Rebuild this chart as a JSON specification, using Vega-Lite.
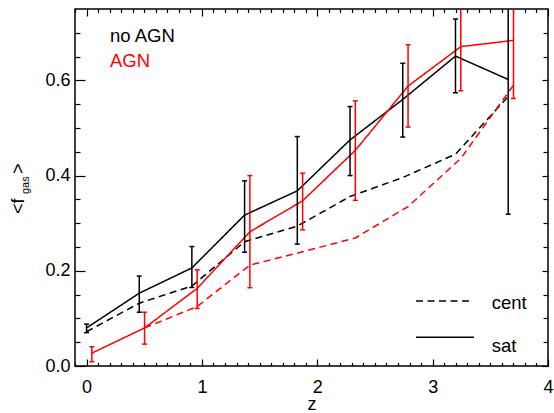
{
  "$schema": "https://vega.github.io/schema/vega-lite/v6.json",
  "width": 473,
  "height": 357,
  "autosize": {"type": "none"},
  "padding": {"left": 75, "top": 9, "right": 6, "bottom": 47},
  "background": "white",
  "config": {
    "view": {"stroke": "black", "strokeWidth": 1.5},
    "font": "Liberation Sans",
    "axis": {"domain": false, "grid": false, "tickColor": "black", "tickWidth": 1.2, "labelColor": "black", "labelFont": "Liberation Sans", "labelFontSize": 18, "titleFont": "Liberation Sans", "titleColor": "black", "titleFontWeight": "normal", "titleFontSize": 18, "labelFlush": false, "labelOverlap": false}
  },
  "datasets": {
    "lines": [
      {"series": "no AGN", "type": "sat", "z": 0.0, "f": 0.080},
      {"series": "no AGN", "type": "sat", "z": 0.457, "f": 0.153},
      {"series": "no AGN", "type": "sat", "z": 0.913, "f": 0.206},
      {"series": "no AGN", "type": "sat", "z": 1.37, "f": 0.317},
      {"series": "no AGN", "type": "sat", "z": 1.827, "f": 0.368},
      {"series": "no AGN", "type": "sat", "z": 2.284, "f": 0.475},
      {"series": "no AGN", "type": "sat", "z": 2.741, "f": 0.560},
      {"series": "no AGN", "type": "sat", "z": 3.198, "f": 0.651},
      {"series": "no AGN", "type": "sat", "z": 3.655, "f": 0.602},
      {"series": "no AGN", "type": "cent", "z": 0.0, "f": 0.072},
      {"series": "no AGN", "type": "cent", "z": 0.457, "f": 0.132},
      {"series": "no AGN", "type": "cent", "z": 0.913, "f": 0.168},
      {"series": "no AGN", "type": "cent", "z": 1.37, "f": 0.261},
      {"series": "no AGN", "type": "cent", "z": 1.827, "f": 0.294},
      {"series": "no AGN", "type": "cent", "z": 2.284, "f": 0.356},
      {"series": "no AGN", "type": "cent", "z": 2.741, "f": 0.396},
      {"series": "no AGN", "type": "cent", "z": 3.198, "f": 0.445},
      {"series": "no AGN", "type": "cent", "z": 3.655, "f": 0.566},
      {"series": "AGN", "type": "sat", "z": 0.046, "f": 0.027},
      {"series": "AGN", "type": "sat", "z": 0.503, "f": 0.080},
      {"series": "AGN", "type": "sat", "z": 0.959, "f": 0.163},
      {"series": "AGN", "type": "sat", "z": 1.416, "f": 0.282},
      {"series": "AGN", "type": "sat", "z": 1.873, "f": 0.347},
      {"series": "AGN", "type": "sat", "z": 2.33, "f": 0.453},
      {"series": "AGN", "type": "sat", "z": 2.787, "f": 0.588},
      {"series": "AGN", "type": "sat", "z": 3.244, "f": 0.671},
      {"series": "AGN", "type": "sat", "z": 3.701, "f": 0.684},
      {"series": "AGN", "type": "cent", "z": 0.503, "f": 0.080},
      {"series": "AGN", "type": "cent", "z": 0.959, "f": 0.125},
      {"series": "AGN", "type": "cent", "z": 1.416, "f": 0.212},
      {"series": "AGN", "type": "cent", "z": 1.873, "f": 0.240},
      {"series": "AGN", "type": "cent", "z": 2.33, "f": 0.269},
      {"series": "AGN", "type": "cent", "z": 2.787, "f": 0.335},
      {"series": "AGN", "type": "cent", "z": 3.244, "f": 0.436},
      {"series": "AGN", "type": "cent", "z": 3.701, "f": 0.590}
    ],
    "errors": [
      {"series": "no AGN", "z": 0.0, "lo": 0.070, "hi": 0.088},
      {"series": "no AGN", "z": 0.457, "lo": 0.113, "hi": 0.189},
      {"series": "no AGN", "z": 0.913, "lo": 0.165, "hi": 0.251},
      {"series": "no AGN", "z": 1.37, "lo": 0.239, "hi": 0.389},
      {"series": "no AGN", "z": 1.827, "lo": 0.256, "hi": 0.482},
      {"series": "no AGN", "z": 2.284, "lo": 0.400, "hi": 0.545},
      {"series": "no AGN", "z": 2.741, "lo": 0.481, "hi": 0.636},
      {"series": "no AGN", "z": 3.198, "lo": 0.574, "hi": 0.729},
      {"series": "no AGN", "z": 3.655, "lo": 0.319, "hi": 0.885},
      {"series": "AGN", "z": 0.046, "lo": 0.009, "hi": 0.0405},
      {"series": "AGN", "z": 0.503, "lo": 0.046, "hi": 0.113},
      {"series": "AGN", "z": 0.959, "lo": 0.121, "hi": 0.202},
      {"series": "AGN", "z": 1.416, "lo": 0.1645, "hi": 0.400},
      {"series": "AGN", "z": 1.873, "lo": 0.286, "hi": 0.405},
      {"series": "AGN", "z": 2.33, "lo": 0.348, "hi": 0.557},
      {"series": "AGN", "z": 2.787, "lo": 0.502, "hi": 0.675},
      {"series": "AGN", "z": 3.244, "lo": 0.578, "hi": 0.765},
      {"series": "AGN", "z": 3.701, "lo": 0.562, "hi": 0.806}
    ],
    "legendLines": [
      {"type": "cent", "x1": 2.856, "x2": 3.341, "y": 0.1366},
      {"type": "sat", "x1": 2.856, "x2": 3.358, "y": 0.0603}
    ],
    "legendText": [
      {"text": "no AGN", "series": "no AGN", "x": 0.2034, "y": 0.680},
      {"text": "AGN", "series": "AGN", "x": 0.2034, "y": 0.6275},
      {"text": "cent", "series": "no AGN", "x": 3.512, "y": 0.1191},
      {"text": "sat", "series": "no AGN", "x": 3.512, "y": 0.030}
    ]
  },
  "resolve": {"axis": {"x": "independent", "y": "independent"}},
  "layer": [
    {
      "data": {"name": "lines"},
      "mark": {"type": "line", "strokeWidth": 1.5, "clip": true},
      "encoding": {
        "x": {"field": "z", "type": "quantitative", "scale": {"domain": [-0.1, 4], "nice": false, "zero": false},
              "axis": {"orient": "bottom", "values": [0, 1, 2, 3, 4], "format": "d", "tickSize": -7, "labelPadding": 19.5, "title": "z", "titlePadding": -1.5}},
        "y": {"field": "f", "type": "quantitative", "scale": {"domain": [0, 0.75], "nice": false, "zero": false},
              "axis": {"orient": "left", "values": [0, 0.2, 0.4, 0.6], "format": ".1f", "tickSize": -10, "labelPadding": 15, "title": null}},
        "color": {"field": "series", "type": "nominal", "scale": {"domain": ["no AGN", "AGN"], "range": ["black", "#ff0000"]}, "legend": null},
        "strokeDash": {"field": "type", "type": "nominal", "scale": {"domain": ["cent", "sat"], "range": [[7, 4.5], [1, 0]]}, "legend": null},
        "detail": {"field": "type"}
      }
    },
    {
      "data": {"name": "errors"},
      "mark": {"type": "rule", "strokeWidth": 1.5, "clip": true},
      "encoding": {
        "x": {"field": "z", "type": "quantitative", "scale": {"domain": [-0.1, 4], "nice": false, "zero": false},
              "axis": {"orient": "bottom", "values": [-0.1, 0.1, 0.2, 0.3, 0.4, 0.5, 0.6, 0.7, 0.8, 0.9, 1.1, 1.2, 1.3, 1.4, 1.5, 1.6, 1.7, 1.8, 1.9, 2.1, 2.2, 2.3, 2.4, 2.5, 2.6, 2.7, 2.8, 2.9, 3.1, 3.2, 3.3, 3.4, 3.5, 3.6, 3.7, 3.8, 3.9], "tickSize": -3.5, "labels": false, "title": null}},
        "y": {"field": "lo", "type": "quantitative", "scale": {"domain": [0, 0.75], "nice": false, "zero": false},
              "axis": {"orient": "left", "values": [0.05, 0.1, 0.15, 0.25, 0.3, 0.35, 0.45, 0.5, 0.55, 0.65, 0.7], "tickSize": -5, "labels": false, "title": null}},
        "y2": {"field": "hi"},
        "color": {"field": "series", "type": "nominal", "legend": null}
      }
    },
    {
      "data": {"name": "errors"},
      "mark": {"type": "tick", "orient": "horizontal", "size": 5, "thickness": 1.5, "clip": true, "opacity": 1},
      "encoding": {
        "x": {"field": "z", "type": "quantitative", "scale": {"domain": [-0.1, 4], "nice": false, "zero": false},
              "axis": {"orient": "top", "values": [0, 1, 2, 3, 4], "tickSize": -7, "labels": false, "title": null}},
        "y": {"field": "lo", "type": "quantitative", "scale": {"domain": [0, 0.75], "nice": false, "zero": false},
              "axis": {"orient": "right", "values": [0, 0.2, 0.4, 0.6], "tickSize": -6, "labels": false, "title": null}},
        "color": {"field": "series", "type": "nominal", "legend": null}
      }
    },
    {
      "data": {"name": "errors"},
      "mark": {"type": "tick", "orient": "horizontal", "size": 5, "thickness": 1.5, "clip": true, "opacity": 1},
      "encoding": {
        "x": {"field": "z", "type": "quantitative", "scale": {"domain": [-0.1, 4], "nice": false, "zero": false},
              "axis": {"orient": "top", "values": [-0.1, 0.1, 0.2, 0.3, 0.4, 0.5, 0.6, 0.7, 0.8, 0.9, 1.1, 1.2, 1.3, 1.4, 1.5, 1.6, 1.7, 1.8, 1.9, 2.1, 2.2, 2.3, 2.4, 2.5, 2.6, 2.7, 2.8, 2.9, 3.1, 3.2, 3.3, 3.4, 3.5, 3.6, 3.7, 3.8, 3.9], "tickSize": -3.5, "labels": false, "title": null}},
        "y": {"field": "hi", "type": "quantitative", "scale": {"domain": [0, 0.75], "nice": false, "zero": false},
              "axis": {"orient": "right", "values": [0.05, 0.1, 0.15, 0.25, 0.3, 0.35, 0.45, 0.5, 0.55, 0.65, 0.7], "tickSize": -5, "labels": false, "title": null}},
        "color": {"field": "series", "type": "nominal", "legend": null}
      }
    },
    {
      "data": {"name": "legendLines"},
      "mark": {"type": "rule", "strokeWidth": 1.5, "color": "black"},
      "encoding": {
        "x": {"field": "x1", "type": "quantitative", "axis": null},
        "x2": {"field": "x2"},
        "y": {"field": "y", "type": "quantitative", "axis": null},
        "strokeDash": {"field": "type", "type": "nominal", "legend": null}
      }
    },
    {
      "data": {"name": "legendText"},
      "mark": {"type": "text", "align": "left", "baseline": "alphabetic", "fontSize": 18.5, "font": "Liberation Sans"},
      "encoding": {
        "x": {"field": "x", "type": "quantitative", "axis": null},
        "y": {"field": "y", "type": "quantitative", "axis": null},
        "text": {"field": "text"},
        "color": {"field": "series", "type": "nominal", "legend": null}
      }
    },
    {
      "data": {"values": [{"text": "<f", "x": -0.54, "y": 0.3193}, {"text": ">", "x": -0.54, "y": 0.4034}]},
      "mark": {"type": "text", "align": "left", "baseline": "alphabetic", "angle": 270, "fontSize": 18, "font": "Liberation Sans", "fill": "#000000", "clip": false},
      "encoding": {
        "x": {"field": "x", "type": "quantitative", "axis": null},
        "y": {"field": "y", "type": "quantitative", "axis": null},
        "text": {"field": "text"}
      }
    },
    {
      "data": {"values": [{"text": "gas", "x": -0.4986, "y": 0.3613}]},
      "mark": {"type": "text", "align": "left", "baseline": "alphabetic", "angle": 270, "fontSize": 11, "font": "Liberation Sans", "fill": "#000000", "clip": false},
      "encoding": {
        "x": {"field": "x", "type": "quantitative", "axis": null},
        "y": {"field": "y", "type": "quantitative", "axis": null},
        "text": {"field": "text"}
      }
    }
  ]
}
